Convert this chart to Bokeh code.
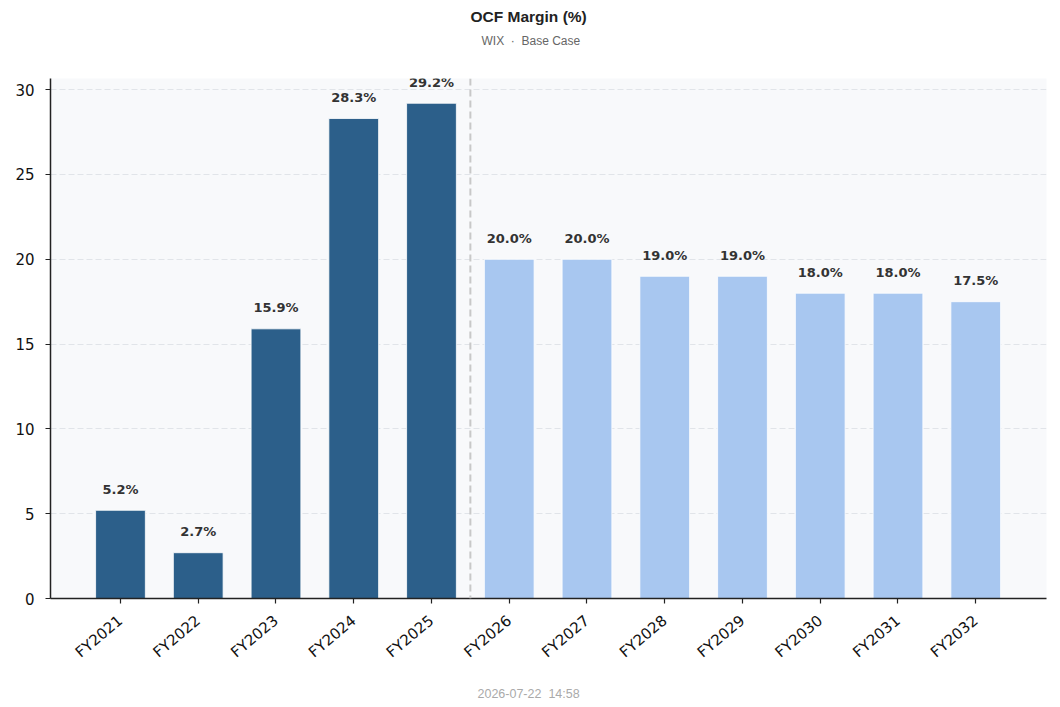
from bokeh.plotting import figure
from bokeh.models import ColumnDataSource, Range1d, FixedTicker, Span, Title
from bokeh.core.properties import value
from bokeh.embed import file_html
from bokeh.resources import INLINE

categories = ["FY2021", "FY2022", "FY2023", "FY2024", "FY2025", "FY2026",
              "FY2027", "FY2028", "FY2029", "FY2030", "FY2031", "FY2032"]
ocf_margin = [5.2, 2.7, 15.9, 28.3, 29.2, 20.0, 20.0, 19.0, 19.0, 18.0, 18.0, 17.5]
is_forecast = [False, False, False, False, False, True, True, True, True, True, True, True]
y_ticks = [0, 5, 10, 15, 20, 25, 30]

ACTUAL = "#2c5f8a"
FORECAST = "#a8c7f0"
NB = "\u00a0"

xs = list(range(len(categories)))
src = ColumnDataSource(dict(
    x=xs,
    top=ocf_margin,
    color=[FORECAST if f else ACTUAL for f in is_forecast],
    label=[f"{v:.1f}%" for v in ocf_margin],
))

p = figure(frame_width=996, frame_height=520, output_backend="svg", toolbar_location=None,
           x_range=Range1d(-0.9, len(categories) - 1 + 0.91),
           y_range=Range1d(0, max(ocf_margin) * 1.05),
           min_border_left=50, min_border_right=13, min_border_top=0, min_border_bottom=0,
           title=None)
p.background_fill_color = "#f8f9fb"
p.border_fill_color = "white"
p.outline_line_color = None

p.vbar(x="x", top="top", width=0.64, source=src, fill_color="color", line_color="white", line_width=0.8)

p.text(x="x", y="top", text="label", source=src, text_align="center", text_baseline="middle",
       y_offset=-21, text_font=value("DejaVu Sans"), text_font_style="bold",
       text_font_size="13px", text_color="#333333")

p.add_layout(Span(location=4.5, dimension="height", line_color="#c8c8c8", line_width=2,
                  line_dash="7 4"))

# axes
p.xaxis.ticker = FixedTicker(ticks=xs)
p.xaxis.major_label_overrides = {i: c for i, c in enumerate(categories)}
p.xaxis.major_label_orientation = 0.698
p.yaxis.ticker = FixedTicker(ticks=y_ticks)
for ax in (p.xaxis, p.yaxis):
    ax.axis_line_color = "#222222"
    ax.axis_line_width = 1.5
    ax.major_tick_line_color = "#222222"
    ax.major_tick_line_width = 1.2
    ax.major_tick_out = 5
    ax.major_tick_in = 0
    ax.minor_tick_line_color = None
    ax.major_label_text_font = "DejaVu Sans"
    ax.major_label_text_font_size = "15px"
    ax.major_label_text_color = "#111111"
p.xaxis.major_label_standoff = 15
p.yaxis.major_label_standoff = 11

p.xgrid.grid_line_color = None
p.ygrid.grid_line_color = "#e1e4e9"
p.ygrid.grid_line_dash = "6 3"
p.ygrid.grid_line_width = 1

# header: spacer (closest to frame), subtitle, title
p.add_layout(Title(text=NB, text_font_size="1px", standoff=26), "above")
p.add_layout(Title(text=f"WIX{NB}{NB}\u00b7{NB}{NB}Base Case", align="left", offset=431,
                   text_font="Liberation Sans", text_font_size="12px", text_font_style="normal",
                   text_color="#666666", standoff=4), "above")
p.add_layout(Title(text="OCF Margin (%)", align="left", offset=420, text_font="Liberation Sans",
                   text_font_size="15.5px", text_font_style="bold", text_color="#222222",
                   standoff=10), "above")

p.add_layout(Title(text=f"2026-07-22{NB}{NB}14:58", align="left", offset=427,
                   text_font="Liberation Sans", text_font_size="12.5px", text_font_style="normal",
                   text_color="#aaaaaa", standoff=26), "below")

open("out.html", "w").write(file_html(p, INLINE))
